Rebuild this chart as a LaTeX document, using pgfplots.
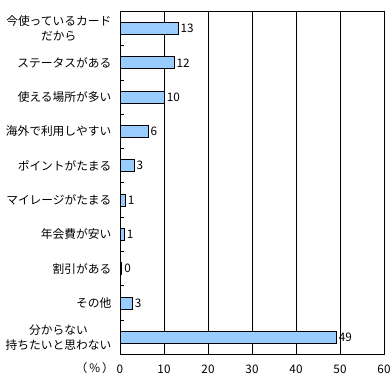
\documentclass[border=0pt]{standalone}
\usepackage{fontspec}
\setmainfont{Noto Sans CJK JP}
\usepackage{pgfplots}
\pgfplotsset{compat=1.18}
\definecolor{barblue}{HTML}{99CCFF}
\begin{document}
\begin{tikzpicture}[font=\fontsize{8.8pt}{10pt}\selectfont]
\begin{axis}[
  scale only axis,
  width=198pt, height=257.25pt,
  xbar,
  bar width=9pt,
  xmin=0, xmax=60,
  ymin=-0.5, ymax=9.5,
  xtick={0,10,20,30,40,50,60},
  xmajorgrids,
  major grid style={black, line width=0.75pt},
  axis line style={black, line width=0.75pt},
  major x tick style={draw=none},
  ytick={0,1,2,3,4,5,6,7,8,9},
  yticklabels={{分からない\\持ちたいと思わない},その他,割引がある,年会費が安い,マイレージがたまる,ポイントがたまる,海外で利用しやすい,使える場所が多い,ステータスがある,{今使っているカード\\だから}},
  yticklabel style={align=center, font=\fontsize{8.8pt}{11pt}\selectfont, xshift=-3pt},
  major y tick style={draw=none},
  minor ytick={0.5,1.5,2.5,3.5,4.5,5.5,6.5,7.5,8.5},
  minor y tick style={black, line width=0.75pt},
  minor tick length=3pt,
  tick align=inside,
  ytick pos=left,
  /pgf/number format/assume math mode=true,
  xticklabel style={yshift=-4pt, font=\fontsize{8.8pt}{10pt}\selectfont},
  point meta=explicit symbolic,
  nodes near coords,
  nodes near coords style={font=\fontsize{8.8pt}{10pt}\selectfont, anchor=west, inner sep=1.5pt},
  clip=false,
]
\addplot[fill=barblue, draw=black, line width=0.75pt] coordinates {
  (49.2,0) [49]
  (2.8,1) [3]
  (0.4,2) [0]
  (1.0,3) [1]
  (1.2,4) [1]
  (3.2,5) [3]
  (6.4,6) [6]
  (10.1,7) [10]
  (12.3,8) [12]
  (13.2,9) [13]
};
\coordinate (ll) at (rel axis cs:0,0);
\coordinate (ur) at (rel axis cs:1,1);
\end{axis}
\node[anchor=center, inner sep=0pt] at ([shift={(-19pt,-10.5pt)}]ll) {（\hspace{1.5pt}\%\hspace{1.5pt}）};
\pgfresetboundingbox
\path[use as bounding box] ([shift={(-90pt,-22.5pt)}]ll) rectangle ([shift={(4.5pt,8.6pt)}]ur);
\end{tikzpicture}
\end{document}
